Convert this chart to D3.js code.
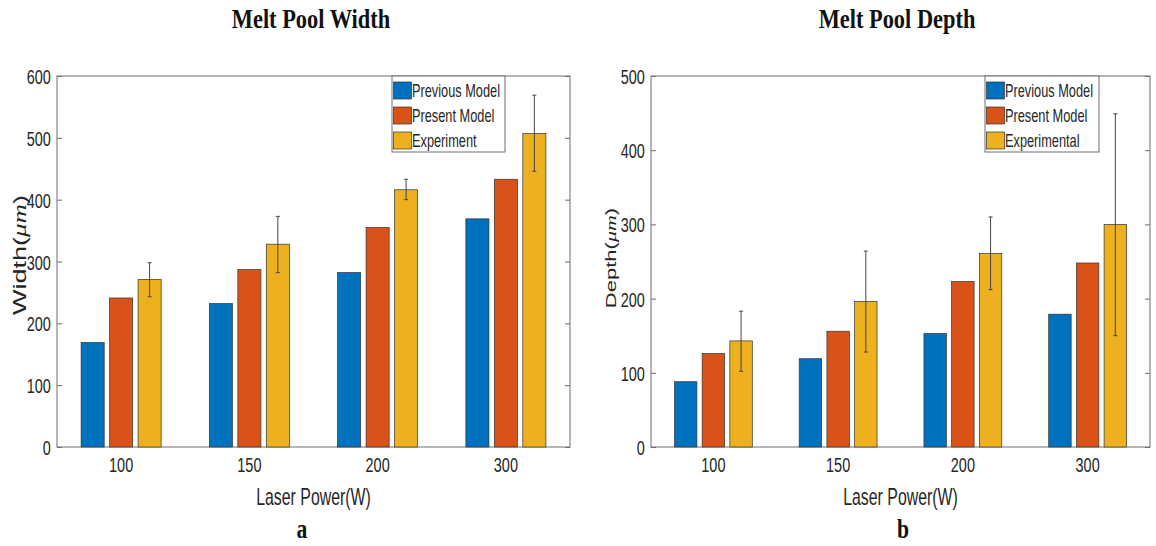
<!DOCTYPE html>
<html>
<head>
<meta charset="utf-8">
<script src="https://cdn.jsdelivr.net/npm/d3@7"></script>
<style>
  body { margin: 0; background: #fff; }
  svg { display: block; }
</style>
</head>
<body>
<svg id="chart" width="1156" height="546"></svg>
<script>
// Data
const powers = ['100', '150', '200', '300'];
const seriesNames = ['Previous Model', 'Present Model', 'Experiment'];
const seriesNamesDepth = ['Previous Model', 'Present Model', 'Experimental'];
const colors = ['#0072BD', '#D95319', '#EDB120'];

// Melt pool width (um)
const widthPrevious = [169, 232, 282, 369];
const widthPresent = [241, 287, 355, 433];
const widthExperiment = [271, 328, 416, 507];
const widthErrHigh = [298, 373, 433, 569];
const widthErrLow = [243, 282, 400, 446];
const widthTicks = [0, 100, 200, 300, 400, 500, 600];

// Melt pool depth (um)
const depthPrevious = [88, 119, 153, 179];
const depthPresent = [126, 156, 223, 248];
const depthExperiment = [143, 196, 261, 300];
const depthErrHigh = [183, 264, 310, 449];
const depthErrLow = [102, 128, 212, 150];
const depthTicks = [0, 100, 200, 300, 400, 500];

const svg = d3.select('#chart');
const sans = '"Liberation Sans", Arial, sans-serif';
const serif = '"Liberation Serif", "Times New Roman", serif';
const squeeze = 0.69;   // the figure is squashed horizontally
const ink = '#262626';
const axisGray = '#6e6e6e';

// text placed at (x, y) and squeezed horizontally
function squeezedText(parent, x, y, txt, size, family, sx) {
    return parent.append('g')
        .attr('transform', `translate(${x},${y}) scale(${sx},1)`)
        .append('text')
        .attr('font-family', family)
        .attr('font-size', size)
        .attr('fill', ink)
        .text(txt);
}

function drawPanel(opt) {
    const { left, right, top, bottom } = opt;
    const g = svg.append('g');

    const x = d3.scaleBand().domain(powers).range([left, right]);
    const y = d3.scaleLinear().domain([0, opt.yMax]).range([bottom, top]);
    const bw = x.bandwidth();
    const barW = bw * 0.18;
    const offsets = [-0.222, 0, 0.222].map(f => f * bw);

    // axes box
    g.append('rect')
        .attr('x', left).attr('y', top)
        .attr('width', right - left).attr('height', bottom - top)
        .attr('fill', 'none').attr('stroke', axisGray).attr('stroke-width', 1);

    // ticks point inward, on both y sides
    const yAxisL = d3.axisLeft(y).tickValues(opt.ticks).tickSize(-5).tickPadding(9);
    const yAxisR = d3.axisRight(y).tickValues(opt.ticks).tickSize(-5).tickFormat('');
    const gl = g.append('g').attr('transform', `translate(${left},0)`).call(yAxisL);
    const gr = g.append('g').attr('transform', `translate(${right},0)`).call(yAxisR);
    const xAxis = d3.axisBottom(x).tickSize(-5).tickPadding(10);
    const gx = g.append('g').attr('transform', `translate(0,${bottom})`).call(xAxis);
    [gl, gr, gx].forEach(a => {
        a.select('.domain').remove();
        a.selectAll('.tick line').attr('stroke', axisGray);
        a.selectAll('.tick text')
            .attr('fill', ink)
            .attr('font-family', sans)
            .style('font-size', '21px')
            .attr('transform', `scale(${squeeze},1)`);
    });
    gl.selectAll('.tick text').attr('dy', '0.36em');

    // bars
    opt.series.forEach((vals, si) => {
        g.append('g').selectAll('rect')
            .data(vals)
            .join('rect')
            .attr('x', (d, i) => x(powers[i]) + bw / 2 + offsets[si] - barW / 2)
            .attr('y', d => y(d))
            .attr('width', barW)
            .attr('height', d => y(0) - y(d))
            .attr('fill', colors[si])
            .attr('stroke', '#333')
            .attr('stroke-width', 0.7);
    });

    // error bars on the experimental series
    const errG = g.append('g').attr('stroke', '#444').attr('stroke-width', 1);
    opt.errHigh.forEach((hi, i) => {
        const cx = x(powers[i]) + bw / 2 + offsets[2];
        const lo = opt.errLow[i];
        errG.append('line').attr('x1', cx).attr('x2', cx).attr('y1', y(hi)).attr('y2', y(lo));
        errG.append('line').attr('x1', cx - 2).attr('x2', cx + 2).attr('y1', y(hi)).attr('y2', y(hi));
        errG.append('line').attr('x1', cx - 2).attr('x2', cx + 2).attr('y1', y(lo)).attr('y2', y(lo));
    });

    // legend
    const lg = g.append('g').attr('transform', `translate(${opt.legendX},${top})`);
    lg.append('rect')
        .attr('x', 0).attr('y', 0)
        .attr('width', opt.legendW).attr('height', 76)
        .attr('fill', '#fff').attr('stroke', axisGray).attr('stroke-width', 1);
    opt.names.forEach((name, i) => {
        const cy = 14 + i * 25;
        lg.append('rect')
            .attr('x', 1.5).attr('y', cy - 8)
            .attr('width', 18).attr('height', 17)
            .attr('fill', colors[i]).attr('stroke', '#333').attr('stroke-width', 0.7);
        squeezedText(lg, 20, cy + 7, name, 18, sans, 0.71);
    });

    // title
    squeezedText(g, opt.titleX, 28, opt.title, 28, serif, 0.8)
        .attr('text-anchor', 'middle')
        .attr('font-weight', 'bold')
        .attr('fill', '#111');

    // x label
    squeezedText(g, (left + right) / 2, 505, 'Laser Power(W)', 23, sans, squeeze)
        .attr('text-anchor', 'middle');

    // y label, squeezed across its height since it is rotated
    const yl = g.append('g')
        .attr('transform', `translate(${opt.yLabelX},${opt.yLabelY}) scale(${squeeze},1) rotate(-90)`)
        .append('text')
        .attr('text-anchor', 'middle')
        .attr('font-family', sans).attr('font-size', opt.yLabelSize)
        .attr('fill', ink);
    yl.append('tspan').text(opt.yName + '(');
    yl.append('tspan').attr('font-family', serif).attr('font-style', 'italic').text('\u03BCm');
    yl.append('tspan').text(')');

    // panel letter
    squeezedText(g, opt.letterX, 538, opt.letter, 27, serif, 0.8)
        .attr('text-anchor', 'middle')
        .attr('font-weight', 'bold')
        .attr('fill', '#111');
}

drawPanel({
    left: 57, right: 570, top: 76, bottom: 447, yMax: 600, ticks: widthTicks,
    series: [widthPrevious, widthPresent, widthExperiment],
    errHigh: widthErrHigh, errLow: widthErrLow,
    names: seriesNames, legendX: 392, legendW: 113,
    title: 'Melt Pool Width', titleX: 311,
    yName: 'Width', yLabelX: 26, yLabelY: 255, yLabelSize: 27,
    letter: 'a', letterX: 302
});

drawPanel({
    left: 651, right: 1150, top: 76, bottom: 447, yMax: 500, ticks: depthTicks,
    series: [depthPrevious, depthPresent, depthExperiment],
    errHigh: depthErrHigh, errLow: depthErrLow,
    names: seriesNamesDepth, legendX: 985, legendW: 114,
    title: 'Melt Pool Depth', titleX: 897,
    yName: 'Depth', yLabelX: 616, yLabelY: 258, yLabelSize: 22,
    letter: 'b', letterX: 903
});
</script>
</body>
</html>
